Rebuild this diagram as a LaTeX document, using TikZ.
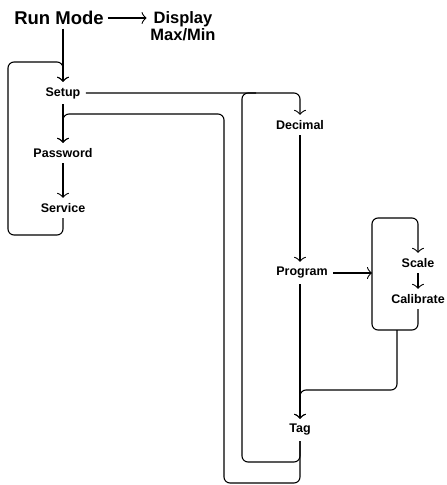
\documentclass[tikz,border=0pt]{standalone}
\usepackage{fontspec}
\setmainfont{Liberation Sans}
\usepackage{tikz}
\usetikzlibrary{arrows.meta}

\begin{document}
\begin{tikzpicture}[x=1pt, y=-1pt, line width=1.1pt,
        lbl/.style={font=\bfseries\fontsize{12.5}{14}\selectfont, inner sep=5pt},
        flow/.style={-{Classical TikZ Rightarrow[length=5pt, width=12pt, line width=0.9pt]}},
        loop/.style={rounded corners=6pt}]
        \useasboundingbox (0, 0) rectangle (447, 485);
        \node[font=\bfseries\fontsize{18.5}{20}\selectfont] (run) at (59, 18) {Run Mode};
        \node[align=center, font=\bfseries\fontsize{16.5}{17}\selectfont] (disp) at (183, 26) {Display\\Max/Min};
        \node[lbl] (setup) at (63, 93) {Setup};
        \node[lbl] (pwd) at (63, 153) {Password};
        \node[lbl] (serv) at (63, 208) {Service};
        \node[lbl] (dec) at (300, 125) {Decimal};
        \node[lbl] (prog) at (302, 273) {Program};
        \node[lbl] (scale) at (418, 263) {Scale};
        \node[lbl] (calib) at (418, 299) {Calibrate};
        \node[lbl] (tag) at (300, 430) {Tag};
        \coordinate (boxin) at (372, 273);
        \coordinate (boxout) at (397, 330);
        \coordinate (merge) at (256, 93);
        \draw[flow] (run.east) -- (run.east -| disp.west);
        \draw[flow] (setup |- run.south) -- (setup.north);
        \draw[flow, loop] (serv.south) -- (63, 235) -- (8, 235) -- (8, 62) -- (63, 62) -- (setup.north);
        \draw[flow] (setup) -- (pwd);
        \draw[flow] (pwd) -- (serv);
        \draw[flow, loop] (setup.east) -- (dec.north |- setup.east) -- (dec.north);
        \draw[flow] (dec) -- (dec |- prog.north);
        \draw[flow] (prog.east) -- (boxin);
        \draw[flow, loop] (calib.south) -- (418, 330) -- (372, 330) -- (372, 218) -- (418, 218) -- (scale.north);
        \draw[flow] (scale) -- (calib);
        \draw[flow, loop] (boxout) -- (397, 390) -- (300, 390) -- (tag.north);
        \draw[flow] (tag |- prog.south) -- (tag.north);
        \draw[loop] (tag.south) -- (300, 462) -- (242, 462) -- (242, 93) -- (merge);
        \draw[flow, loop] (tag.south) -- (300, 483) -- (224, 483) -- (224, 114) -- (63, 114) -- (pwd.north);
\end{tikzpicture}
\end{document}
